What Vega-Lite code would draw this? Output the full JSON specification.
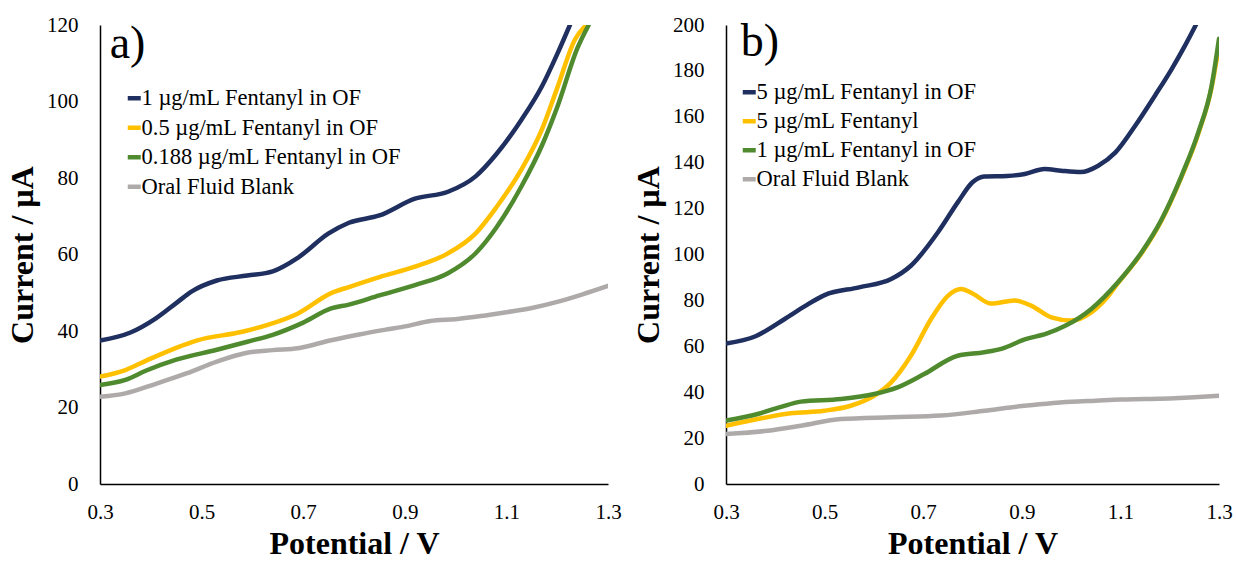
{
  "$schema": "https://vega.github.io/schema/vega-lite/v6.json",
  "autosize": {"type": "pad"},
  "padding": {"left": 6, "top": 14, "right": 0, "bottom": 0},
  "spacing": 10,
  "config": {
    "font": "Liberation Serif",
    "view": {"stroke": null},
    "axis": {
      "domainColor": "black", "domainWidth": 1.5, "ticks": false, "tickSize": 0, "grid": false,
      "labelFont": "Liberation Serif", "labelFontSize": 21, "labelColor": "black",
      "titleFont": "Liberation Serif", "titleFontSize": 32, "titleFontWeight": "bold", "titleColor": "black",
      "labelFlush": false, "labelOverlap": false
    },
    "axisX": {"labelPadding": 17, "titlePadding": 6},
    "axisY": {"labelPadding": 22, "titlePadding": 7}
  },
  "datasets": {
    "a": [
      {"s": "1 µg/mL Fentanyl in OF", "v": 0.3, "i": 37.5},
      {"s": "1 µg/mL Fentanyl in OF", "v": 0.36, "i": 39.6},
      {"s": "1 µg/mL Fentanyl in OF", "v": 0.41, "i": 43.3},
      {"s": "1 µg/mL Fentanyl in OF", "v": 0.45, "i": 47.3},
      {"s": "1 µg/mL Fentanyl in OF", "v": 0.48, "i": 50.3},
      {"s": "1 µg/mL Fentanyl in OF", "v": 0.53, "i": 53.2},
      {"s": "1 µg/mL Fentanyl in OF", "v": 0.59, "i": 54.5},
      {"s": "1 µg/mL Fentanyl in OF", "v": 0.64, "i": 55.6},
      {"s": "1 µg/mL Fentanyl in OF", "v": 0.69, "i": 59.2},
      {"s": "1 µg/mL Fentanyl in OF", "v": 0.75, "i": 65.5},
      {"s": "1 µg/mL Fentanyl in OF", "v": 0.79, "i": 68.3},
      {"s": "1 µg/mL Fentanyl in OF", "v": 0.85, "i": 70.2},
      {"s": "1 µg/mL Fentanyl in OF", "v": 0.92, "i": 74.6},
      {"s": "1 µg/mL Fentanyl in OF", "v": 0.985, "i": 76.4},
      {"s": "1 µg/mL Fentanyl in OF", "v": 1.04, "i": 80.5},
      {"s": "1 µg/mL Fentanyl in OF", "v": 1.08, "i": 86.2},
      {"s": "1 µg/mL Fentanyl in OF", "v": 1.13, "i": 95.3},
      {"s": "1 µg/mL Fentanyl in OF", "v": 1.17, "i": 104},
      {"s": "1 µg/mL Fentanyl in OF", "v": 1.2, "i": 112.4},
      {"s": "1 µg/mL Fentanyl in OF", "v": 1.225, "i": 120},
      {"s": "0.5 µg/mL Fentanyl in OF", "v": 0.3, "i": 28.1},
      {"s": "0.5 µg/mL Fentanyl in OF", "v": 0.35, "i": 29.8},
      {"s": "0.5 µg/mL Fentanyl in OF", "v": 0.39, "i": 32.2},
      {"s": "0.5 µg/mL Fentanyl in OF", "v": 0.45, "i": 35.6},
      {"s": "0.5 µg/mL Fentanyl in OF", "v": 0.49, "i": 37.5},
      {"s": "0.5 µg/mL Fentanyl in OF", "v": 0.58, "i": 39.8},
      {"s": "0.5 µg/mL Fentanyl in OF", "v": 0.63, "i": 41.6},
      {"s": "0.5 µg/mL Fentanyl in OF", "v": 0.69, "i": 44.6},
      {"s": "0.5 µg/mL Fentanyl in OF", "v": 0.755, "i": 49.9},
      {"s": "0.5 µg/mL Fentanyl in OF", "v": 0.79, "i": 51.5},
      {"s": "0.5 µg/mL Fentanyl in OF", "v": 0.85, "i": 54.1},
      {"s": "0.5 µg/mL Fentanyl in OF", "v": 0.92, "i": 56.8},
      {"s": "0.5 µg/mL Fentanyl in OF", "v": 0.985, "i": 60.3},
      {"s": "0.5 µg/mL Fentanyl in OF", "v": 1.04, "i": 65.6},
      {"s": "0.5 µg/mL Fentanyl in OF", "v": 1.08, "i": 72.3},
      {"s": "0.5 µg/mL Fentanyl in OF", "v": 1.13, "i": 82.3},
      {"s": "0.5 µg/mL Fentanyl in OF", "v": 1.17, "i": 92.7},
      {"s": "0.5 µg/mL Fentanyl in OF", "v": 1.2, "i": 103.5},
      {"s": "0.5 µg/mL Fentanyl in OF", "v": 1.235, "i": 116.2},
      {"s": "0.5 µg/mL Fentanyl in OF", "v": 1.257, "i": 120},
      {"s": "0.188 µg/mL Fentanyl in OF", "v": 0.3, "i": 25.9},
      {"s": "0.188 µg/mL Fentanyl in OF", "v": 0.35, "i": 27.2},
      {"s": "0.188 µg/mL Fentanyl in OF", "v": 0.39, "i": 29.6},
      {"s": "0.188 µg/mL Fentanyl in OF", "v": 0.45, "i": 32.5},
      {"s": "0.188 µg/mL Fentanyl in OF", "v": 0.53, "i": 35.1},
      {"s": "0.188 µg/mL Fentanyl in OF", "v": 0.59, "i": 37.2},
      {"s": "0.188 µg/mL Fentanyl in OF", "v": 0.64, "i": 39},
      {"s": "0.188 µg/mL Fentanyl in OF", "v": 0.7, "i": 42.2},
      {"s": "0.188 µg/mL Fentanyl in OF", "v": 0.755, "i": 45.9},
      {"s": "0.188 µg/mL Fentanyl in OF", "v": 0.79, "i": 46.9},
      {"s": "0.188 µg/mL Fentanyl in OF", "v": 0.85, "i": 49.3},
      {"s": "0.188 µg/mL Fentanyl in OF", "v": 0.92, "i": 52},
      {"s": "0.188 µg/mL Fentanyl in OF", "v": 0.985, "i": 55.1},
      {"s": "0.188 µg/mL Fentanyl in OF", "v": 1.04, "i": 60.4},
      {"s": "0.188 µg/mL Fentanyl in OF", "v": 1.08, "i": 67},
      {"s": "0.188 µg/mL Fentanyl in OF", "v": 1.13, "i": 77.9},
      {"s": "0.188 µg/mL Fentanyl in OF", "v": 1.17, "i": 88.5},
      {"s": "0.188 µg/mL Fentanyl in OF", "v": 1.2, "i": 98.5},
      {"s": "0.188 µg/mL Fentanyl in OF", "v": 1.24, "i": 114},
      {"s": "0.188 µg/mL Fentanyl in OF", "v": 1.262, "i": 120},
      {"s": "Oral Fluid Blank", "v": 0.3, "i": 22.8},
      {"s": "Oral Fluid Blank", "v": 0.35, "i": 23.7},
      {"s": "Oral Fluid Blank", "v": 0.41, "i": 26.2},
      {"s": "Oral Fluid Blank", "v": 0.47, "i": 28.9},
      {"s": "Oral Fluid Blank", "v": 0.53, "i": 32},
      {"s": "Oral Fluid Blank", "v": 0.585, "i": 34.2},
      {"s": "Oral Fluid Blank", "v": 0.64, "i": 35},
      {"s": "Oral Fluid Blank", "v": 0.69, "i": 35.5},
      {"s": "Oral Fluid Blank", "v": 0.755, "i": 37.6},
      {"s": "Oral Fluid Blank", "v": 0.81, "i": 39.1},
      {"s": "Oral Fluid Blank", "v": 0.86, "i": 40.3},
      {"s": "Oral Fluid Blank", "v": 0.9, "i": 41.2},
      {"s": "Oral Fluid Blank", "v": 0.95, "i": 42.6},
      {"s": "Oral Fluid Blank", "v": 1.0, "i": 43.1},
      {"s": "Oral Fluid Blank", "v": 1.05, "i": 43.9},
      {"s": "Oral Fluid Blank", "v": 1.1, "i": 44.9},
      {"s": "Oral Fluid Blank", "v": 1.15, "i": 46},
      {"s": "Oral Fluid Blank", "v": 1.2, "i": 47.6},
      {"s": "Oral Fluid Blank", "v": 1.25, "i": 49.6},
      {"s": "Oral Fluid Blank", "v": 1.3, "i": 51.8}
    ],
    "b": [
      {"s": "5 µg/mL Fentanyl in OF", "v": 0.3, "i": 61.2},
      {"s": "5 µg/mL Fentanyl in OF", "v": 0.36, "i": 64.4},
      {"s": "5 µg/mL Fentanyl in OF", "v": 0.42, "i": 72},
      {"s": "5 µg/mL Fentanyl in OF", "v": 0.46, "i": 77.5},
      {"s": "5 µg/mL Fentanyl in OF", "v": 0.5, "i": 82.3},
      {"s": "5 µg/mL Fentanyl in OF", "v": 0.57, "i": 85.7},
      {"s": "5 µg/mL Fentanyl in OF", "v": 0.635, "i": 89.3},
      {"s": "5 µg/mL Fentanyl in OF", "v": 0.675, "i": 95.1},
      {"s": "5 µg/mL Fentanyl in OF", "v": 0.73, "i": 109.7},
      {"s": "5 µg/mL Fentanyl in OF", "v": 0.77, "i": 122.7},
      {"s": "5 µg/mL Fentanyl in OF", "v": 0.8, "i": 131.5},
      {"s": "5 µg/mL Fentanyl in OF", "v": 0.824, "i": 134},
      {"s": "5 µg/mL Fentanyl in OF", "v": 0.87, "i": 134.2},
      {"s": "5 µg/mL Fentanyl in OF", "v": 0.906, "i": 135.1},
      {"s": "5 µg/mL Fentanyl in OF", "v": 0.946, "i": 137.3},
      {"s": "5 µg/mL Fentanyl in OF", "v": 0.98, "i": 136.5},
      {"s": "5 µg/mL Fentanyl in OF", "v": 1.02, "i": 135.9},
      {"s": "5 µg/mL Fentanyl in OF", "v": 1.055, "i": 138.7},
      {"s": "5 µg/mL Fentanyl in OF", "v": 1.09, "i": 144.5},
      {"s": "5 µg/mL Fentanyl in OF", "v": 1.13, "i": 156.1},
      {"s": "5 µg/mL Fentanyl in OF", "v": 1.17, "i": 169.2},
      {"s": "5 µg/mL Fentanyl in OF", "v": 1.204, "i": 180.8},
      {"s": "5 µg/mL Fentanyl in OF", "v": 1.231, "i": 191},
      {"s": "5 µg/mL Fentanyl in OF", "v": 1.253, "i": 200},
      {"s": "5 µg/mL Fentanyl", "v": 0.3, "i": 25.4},
      {"s": "5 µg/mL Fentanyl", "v": 0.364, "i": 28.3},
      {"s": "5 µg/mL Fentanyl", "v": 0.431, "i": 30.8},
      {"s": "5 µg/mL Fentanyl", "v": 0.499, "i": 31.9},
      {"s": "5 µg/mL Fentanyl", "v": 0.553, "i": 34.1},
      {"s": "5 µg/mL Fentanyl", "v": 0.601, "i": 38.5},
      {"s": "5 µg/mL Fentanyl", "v": 0.635, "i": 44.3},
      {"s": "5 µg/mL Fentanyl", "v": 0.675, "i": 55.9},
      {"s": "5 µg/mL Fentanyl", "v": 0.716, "i": 71.9},
      {"s": "5 µg/mL Fentanyl", "v": 0.75, "i": 82},
      {"s": "5 µg/mL Fentanyl", "v": 0.777, "i": 85},
      {"s": "5 µg/mL Fentanyl", "v": 0.8, "i": 83},
      {"s": "5 µg/mL Fentanyl", "v": 0.838, "i": 78.6},
      {"s": "5 µg/mL Fentanyl", "v": 0.885, "i": 80},
      {"s": "5 µg/mL Fentanyl", "v": 0.919, "i": 77.7},
      {"s": "5 µg/mL Fentanyl", "v": 0.96, "i": 72.6},
      {"s": "5 µg/mL Fentanyl", "v": 1.0, "i": 71.2},
      {"s": "5 µg/mL Fentanyl", "v": 1.041, "i": 74.8},
      {"s": "5 µg/mL Fentanyl", "v": 1.075, "i": 81.8},
      {"s": "5 µg/mL Fentanyl", "v": 1.095, "i": 87.5},
      {"s": "5 µg/mL Fentanyl", "v": 1.143, "i": 100.5},
      {"s": "5 µg/mL Fentanyl", "v": 1.184, "i": 115},
      {"s": "5 µg/mL Fentanyl", "v": 1.224, "i": 133.8},
      {"s": "5 µg/mL Fentanyl", "v": 1.258, "i": 152.6},
      {"s": "5 µg/mL Fentanyl", "v": 1.285, "i": 172.8},
      {"s": "5 µg/mL Fentanyl", "v": 1.3, "i": 191},
      {"s": "1 µg/mL Fentanyl in OF", "v": 0.3, "i": 27.6},
      {"s": "1 µg/mL Fentanyl in OF", "v": 0.364, "i": 30.5},
      {"s": "1 µg/mL Fentanyl in OF", "v": 0.41, "i": 33.5},
      {"s": "1 µg/mL Fentanyl in OF", "v": 0.452, "i": 35.9},
      {"s": "1 µg/mL Fentanyl in OF", "v": 0.533, "i": 37},
      {"s": "1 µg/mL Fentanyl in OF", "v": 0.601, "i": 39.2},
      {"s": "1 µg/mL Fentanyl in OF", "v": 0.648, "i": 42.1},
      {"s": "1 µg/mL Fentanyl in OF", "v": 0.702, "i": 47.9},
      {"s": "1 µg/mL Fentanyl in OF", "v": 0.77, "i": 55.9},
      {"s": "1 µg/mL Fentanyl in OF", "v": 0.824, "i": 57.4},
      {"s": "1 µg/mL Fentanyl in OF", "v": 0.86, "i": 59},
      {"s": "1 µg/mL Fentanyl in OF", "v": 0.906, "i": 63},
      {"s": "1 µg/mL Fentanyl in OF", "v": 0.95, "i": 65.5},
      {"s": "1 µg/mL Fentanyl in OF", "v": 0.987, "i": 68.8},
      {"s": "1 µg/mL Fentanyl in OF", "v": 1.041, "i": 76.3},
      {"s": "1 µg/mL Fentanyl in OF", "v": 1.095, "i": 87.9},
      {"s": "1 µg/mL Fentanyl in OF", "v": 1.143, "i": 101},
      {"s": "1 µg/mL Fentanyl in OF", "v": 1.184, "i": 115.5},
      {"s": "1 µg/mL Fentanyl in OF", "v": 1.224, "i": 134.3},
      {"s": "1 µg/mL Fentanyl in OF", "v": 1.258, "i": 153.2},
      {"s": "1 µg/mL Fentanyl in OF", "v": 1.285, "i": 173.5},
      {"s": "1 µg/mL Fentanyl in OF", "v": 1.3, "i": 194},
      {"s": "Oral Fluid Blank", "v": 0.3, "i": 21.8},
      {"s": "Oral Fluid Blank", "v": 0.384, "i": 23.2},
      {"s": "Oral Fluid Blank", "v": 0.452, "i": 25.4},
      {"s": "Oral Fluid Blank", "v": 0.533, "i": 28.3},
      {"s": "Oral Fluid Blank", "v": 0.635, "i": 29.1},
      {"s": "Oral Fluid Blank", "v": 0.736, "i": 29.8},
      {"s": "Oral Fluid Blank", "v": 0.824, "i": 31.9},
      {"s": "Oral Fluid Blank", "v": 0.9, "i": 34},
      {"s": "Oral Fluid Blank", "v": 0.95, "i": 35},
      {"s": "Oral Fluid Blank", "v": 1.0, "i": 35.8},
      {"s": "Oral Fluid Blank", "v": 1.05, "i": 36.3},
      {"s": "Oral Fluid Blank", "v": 1.1, "i": 36.8},
      {"s": "Oral Fluid Blank", "v": 1.15, "i": 37},
      {"s": "Oral Fluid Blank", "v": 1.2, "i": 37.3},
      {"s": "Oral Fluid Blank", "v": 1.25, "i": 37.8},
      {"s": "Oral Fluid Blank", "v": 1.3, "i": 38.5}
    ]
  },
  "hconcat": [
    {
      "width": 508,
      "height": 459,
      "layer": [
        {
          "data": {"name": "a"},
          "mark": {"type": "line", "strokeWidth": 4.5, "interpolate": "monotone", "clip": true, "strokeCap": "round"},
          "encoding": {
            "x": {"field": "v", "type": "quantitative", "title": "Potential / V",
                  "scale": {"domain": [0.3, 1.3], "nice": false, "zero": false},
                  "axis": {"values": [0.3, 0.5, 0.7, 0.9, 1.1, 1.3], "format": ".1f"}},
            "y": {"field": "i", "type": "quantitative", "title": "Current / µA",
                  "scale": {"domain": [0, 120], "nice": false},
                  "axis": {"values": [0, 20, 40, 60, 80, 100, 120]}},
            "color": {"field": "s", "type": "nominal",
                      "scale": {"domain": ["1 µg/mL Fentanyl in OF", "0.5 µg/mL Fentanyl in OF", "0.188 µg/mL Fentanyl in OF", "Oral Fluid Blank"],
                                "range": ["#1f3060", "#ffc000", "#4f8a2f", "#aeaaaa"]},
                      "legend": {"orient": "none", "legendX": 23, "legendY": 62, "title": null,
                                 "symbolType": "stroke", "symbolSize": 169, "symbolStrokeWidth": 4.5,
                                 "labelFont": "Liberation Serif", "labelFontSize": 22.5, "labelColor": "black",
                                 "rowPadding": 6.5, "labelOffset": -4, "padding": 0, "labelLimit": 0}}
          }
        },
        {
          "data": {"values": [{"v": 0.319, "i": 111.3, "t": "a)"}]},
          "mark": {"type": "text", "font": "Liberation Serif", "fontSize": 46, "align": "left", "baseline": "alphabetic", "color": "black"},
          "encoding": {
            "x": {"field": "v", "type": "quantitative"},
            "y": {"field": "i", "type": "quantitative"},
            "text": {"field": "t"}
          }
        }
      ]
    },
    {
      "width": 493,
      "height": 459,
      "layer": [
        {
          "data": {"name": "b"},
          "mark": {"type": "line", "strokeWidth": 4.5, "interpolate": "monotone", "clip": true, "strokeCap": "round"},
          "encoding": {
            "x": {"field": "v", "type": "quantitative", "title": "Potential / V",
                  "scale": {"domain": [0.3, 1.3], "nice": false, "zero": false},
                  "axis": {"values": [0.3, 0.5, 0.7, 0.9, 1.1, 1.3], "format": ".1f"}},
            "y": {"field": "i", "type": "quantitative", "title": "Current / µA",
                  "scale": {"domain": [0, 200], "nice": false},
                  "axis": {"values": [0, 20, 40, 60, 80, 100, 120, 140, 160, 180, 200]}},
            "color": {"field": "s", "type": "nominal",
                      "scale": {"domain": ["5 µg/mL Fentanyl in OF", "5 µg/mL Fentanyl", "1 µg/mL Fentanyl in OF", "Oral Fluid Blank"],
                                "range": ["#1f3060", "#ffc000", "#4f8a2f", "#aeaaaa"]},
                      "legend": {"orient": "none", "legendX": 12, "legendY": 56, "title": null,
                                 "symbolType": "stroke", "symbolSize": 169, "symbolStrokeWidth": 4.5,
                                 "labelFont": "Liberation Serif", "labelFontSize": 22.5, "labelColor": "black",
                                 "rowPadding": 6, "labelOffset": -4, "padding": 0, "labelLimit": 0}}
          }
        },
        {
          "data": {"values": [{"v": 0.33, "i": 186.6, "t": "b)"}]},
          "mark": {"type": "text", "font": "Liberation Serif", "fontSize": 46, "align": "left", "baseline": "alphabetic", "color": "black"},
          "encoding": {
            "x": {"field": "v", "type": "quantitative"},
            "y": {"field": "i", "type": "quantitative"},
            "text": {"field": "t"}
          }
        }
      ]
    }
  ],
  "resolve": {"scale": {"color": "independent"}, "legend": {"color": "independent"}}
}
